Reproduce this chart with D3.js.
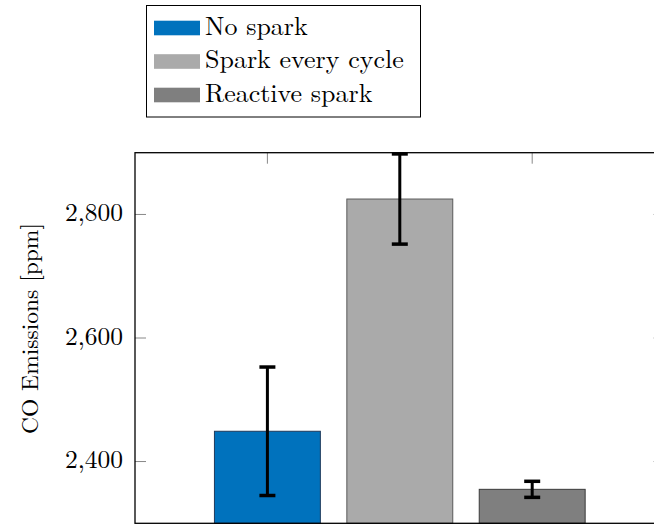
<!DOCTYPE html>
<html>
<head>
<meta charset="utf-8">
<script src="https://cdn.jsdelivr.net/npm/d3@7"></script>
<style>
  html, body { margin: 0; padding: 0; background: #fff; }
  svg { display: block; }
</style>
</head>
<body>
<svg id="chart" width="654" height="525"></svg>
<script>
// CO emissions per ignition strategy (mean and standard deviation, ppm)
const categories = ["No spark", "Spark every cycle", "Reactive spark"];
const means = [2449, 2825, 2355];
const errors = [104, 73, 13];
const colors = ["#0072BD", "#AAAAAA", "#7F7F7F"];
const strokes = ["#1f3a5c", "#5a5a5a", "#3a3a3a"];
const yTicks = [2400, 2600, 2800];

const FONT = '"Latin Modern Roman", "Liberation Serif", serif';

const svg = d3.select("#chart");

const plot = { left: 135, right: 664.6, top: 152.7, bottom: 523.3 };

const x = d3.scaleLinear().domain([0, 4]).range([plot.left, plot.right]);
const y = d3.scaleLinear().domain([2300, 2900]).range([plot.bottom, plot.top]);
const barW = x(0.8) - x(0);

const g = svg.append("g");

// inward tick marks (left, right, top, bottom)
const tickLen = 11;
const tickColor = "#888";
yTicks.forEach(v => {
  g.append("line").attr("x1", plot.left).attr("x2", plot.left + tickLen)
    .attr("y1", y(v)).attr("y2", y(v)).attr("stroke", tickColor).attr("stroke-width", 1);
  g.append("line").attr("x1", plot.right).attr("x2", plot.right - tickLen)
    .attr("y1", y(v)).attr("y2", y(v)).attr("stroke", tickColor).attr("stroke-width", 1);
});
[1, 2, 3].forEach(c => {
  g.append("line").attr("x1", x(c)).attr("x2", x(c))
    .attr("y1", plot.top).attr("y2", plot.top + tickLen).attr("stroke", tickColor);
  g.append("line").attr("x1", x(c)).attr("x2", x(c))
    .attr("y1", plot.bottom).attr("y2", plot.bottom - tickLen).attr("stroke", tickColor);
});

// bars
categories.forEach((c, i) => {
  const cx = x(i + 1);
  g.append("rect")
    .attr("x", cx - barW / 2)
    .attr("y", y(means[i]))
    .attr("width", barW)
    .attr("height", plot.bottom - y(means[i]))
    .attr("fill", colors[i])
    .attr("stroke", strokes[i])
    .attr("stroke-width", 1);
});

// error bars
const capW = 16;
categories.forEach((c, i) => {
  const cx = x(i + 1);
  const hi = y(means[i] + errors[i]);
  const lo = y(means[i] - errors[i]);
  g.append("line").attr("x1", cx).attr("x2", cx).attr("y1", hi).attr("y2", lo)
    .attr("stroke", "#000").attr("stroke-width", 3);
  [hi, lo].forEach(yy => {
    g.append("line").attr("x1", cx - capW / 2).attr("x2", cx + capW / 2)
      .attr("y1", yy).attr("y2", yy).attr("stroke", "#000").attr("stroke-width", 3.5);
  });
});

// axis frame
g.append("rect")
  .attr("x", plot.left).attr("y", plot.top)
  .attr("width", plot.right - plot.left).attr("height", plot.bottom - plot.top)
  .attr("fill", "none").attr("stroke", "#000").attr("stroke-width", 1.3);

// y tick labels
const fmt = d3.format(",");
yTicks.forEach(v => {
  svg.append("text")
    .attr("x", 123).attr("y", y(v) + 6.5)
    .attr("text-anchor", "end")
    .style("font-family", FONT)
    .style("font-size", "25.5px")
    .text(fmt(v));
});

// y axis label
svg.append("text")
  .attr("transform", "translate(38,328.5) rotate(-90)")
  .attr("text-anchor", "middle")
  .style("font-family", FONT)
  .style("font-size", "23.5px")
  .text("CO Emissions [ppm]");

// legend
const legend = svg.append("g");
legend.append("rect")
  .attr("x", 146.5).attr("y", 5.5).attr("width", 274).attr("height", 111.5)
  .attr("fill", "#fff").attr("stroke", "#000").attr("stroke-width", 1);
categories.forEach((c, i) => {
  const top = 20.7 + i * 33.5;
  legend.append("rect")
    .attr("x", 154).attr("y", top).attr("width", 46).attr("height", 14.6)
    .attr("fill", colors[i]);
  legend.append("text")
    .attr("x", 205).attr("y", top + 14)
    .style("font-family", FONT)
    .style("font-size", "26px")
    .text(c);
});
</script>
</body>
</html>
